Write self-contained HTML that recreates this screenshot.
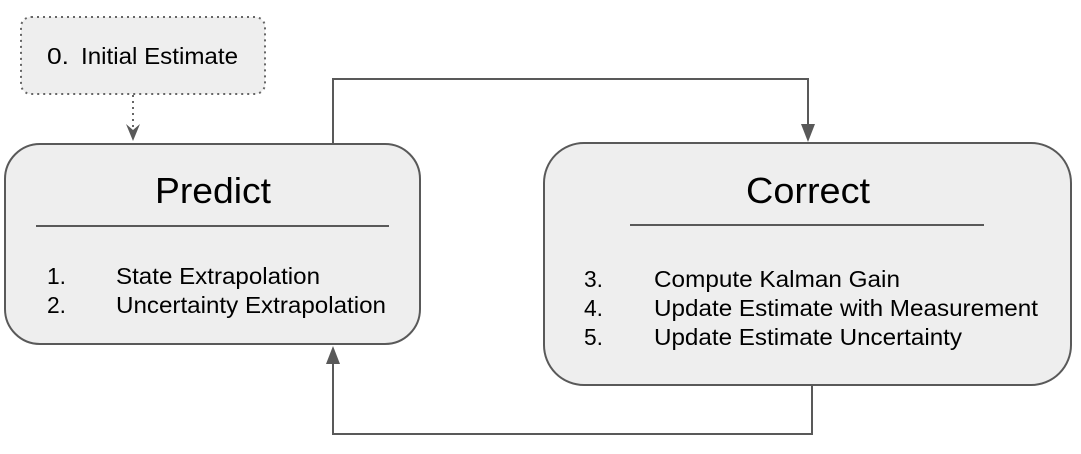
<!DOCTYPE html>
<html><head><style>
body{margin:0;background:#fff;}
svg text{font-family:"Liberation Sans",Arial,sans-serif;fill:#000;}
</style></head><body>
<svg width="1081" height="449" viewBox="0 0 1081 449" xmlns="http://www.w3.org/2000/svg">
<rect x="21" y="17" width="244" height="77" rx="10" fill="#eeeeee" stroke="#666" stroke-width="2" stroke-dasharray="2,4"/>
<text x="47" y="64" font-size="23" textLength="22" lengthAdjust="spacingAndGlyphs">0.</text>
<text x="81" y="64" font-size="23" textLength="157" lengthAdjust="spacingAndGlyphs">Initial Estimate</text>
<line x1="133" y1="95" x2="133" y2="128" stroke="#666" stroke-width="2" stroke-dasharray="2,4"/>
<polygon points="126,124 133,130 140,124 133,141" fill="#595959"/>

<rect x="5" y="144" width="415" height="200" rx="35" fill="#eeeeee" stroke="#595959" stroke-width="2"/>
<text x="155" y="203" font-size="36" textLength="116" lengthAdjust="spacingAndGlyphs">Predict</text>
<line x1="36" y1="226" x2="389" y2="226" stroke="#595959" stroke-width="2"/>
<text x="47" y="284" font-size="23" textLength="19" lengthAdjust="spacingAndGlyphs">1.</text><text x="116" y="284" font-size="23" textLength="204" lengthAdjust="spacingAndGlyphs">State Extrapolation</text>
<text x="47" y="313" font-size="23" textLength="19" lengthAdjust="spacingAndGlyphs">2.</text><text x="116" y="313" font-size="23" textLength="270" lengthAdjust="spacingAndGlyphs">Uncertainty Extrapolation</text>

<rect x="544" y="143" width="527" height="242" rx="40" fill="#eeeeee" stroke="#595959" stroke-width="2"/>
<text x="746" y="203" font-size="36" textLength="124" lengthAdjust="spacingAndGlyphs">Correct</text>
<line x1="630" y1="225" x2="984" y2="225" stroke="#595959" stroke-width="2"/>
<text x="584" y="287" font-size="23" textLength="19" lengthAdjust="spacingAndGlyphs">3.</text><text x="654" y="287" font-size="23" textLength="246" lengthAdjust="spacingAndGlyphs">Compute Kalman Gain</text>
<text x="584" y="316" font-size="23" textLength="19" lengthAdjust="spacingAndGlyphs">4.</text><text x="654" y="316" font-size="23" textLength="384" lengthAdjust="spacingAndGlyphs">Update Estimate with Measurement</text>
<text x="584" y="345" font-size="23" textLength="19" lengthAdjust="spacingAndGlyphs">5.</text><text x="654" y="345" font-size="23" textLength="308" lengthAdjust="spacingAndGlyphs">Update Estimate Uncertainty</text>

<polyline points="333,143 333,79 808,79 808,126" fill="none" stroke="#595959" stroke-width="2"/>
<polygon points="801,124 815,124 808,142" fill="#595959"/>
<polyline points="812,386 812,434 333,434 333,362" fill="none" stroke="#595959" stroke-width="2"/>
<polygon points="326,364 340,364 333,346" fill="#595959"/>
</svg>
</body></html>
